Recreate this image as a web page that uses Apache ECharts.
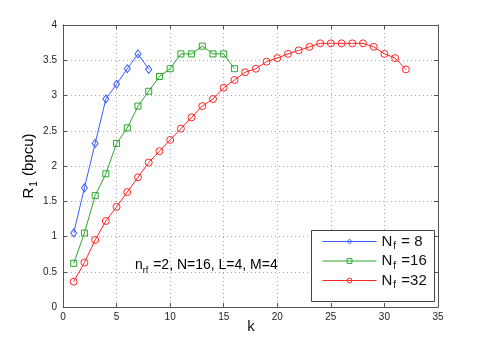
<!DOCTYPE html>
<html>
<head>
<meta charset="utf-8">
<script src="https://cdn.jsdelivr.net/npm/echarts@6/dist/echarts.min.js"></script>
<style>html,body{margin:0;padding:0;background:#fff;}#c{width:485px;height:346px;}</style>
</head>
<body>
<div id="c"></div>
<script>
var kValues = [1,2,3,4,5,6,7,8,9,10,11,12,13,14,15,16,17,18,19,20,21,22,23,24,25,26,27,28,29,30,31,32];
var rateNf8 = [1.05,1.69,2.32,2.95,3.16,3.38,3.59,3.37];
var rateNf16 = [0.62,1.05,1.58,1.89,2.32,2.54,2.85,3.06,3.27,3.38,3.59,3.59,3.70,3.59,3.59,3.38];
var rateNf32 = [0.36,0.63,0.95,1.22,1.42,1.63,1.84,2.05,2.21,2.37,2.53,2.69,2.85,2.95,3.11,3.22,
                3.33,3.38,3.48,3.53,3.59,3.64,3.69,3.74,3.74,3.74,3.74,3.74,3.69,3.59,3.53,3.37];
var seriesNames = ['{a|N}{s|f}{a| = 8}', '{a|N}{s|f}{a| =16}', '{a|N}{s|f}{a| =32}'];
var xTicks = {min: 0, max: 35, interval: 5};
var yTicks = {min: 0, max: 4, interval: 0.5};

function pairs(vals){ return vals.map(function(v,i){ return [kValues[i], v]; }); }

var FONT = 'Liberation Sans, Arial, Helvetica, sans-serif';
var chart = echarts.init(document.getElementById('c'), null, {renderer:'canvas'});
var axisLine = {show:true, onZero:false, lineStyle:{color:'#555', width:1}};
var axisTick = {show:true, inside:true, length:4, lineStyle:{color:'#555'}};
function mk(name, data, color, symbol, size){
  return {
    name:name, type:'line', data:pairs(data), symbol:symbol, symbolSize:size,
    showAllSymbol:true,
    lineStyle:{color:color, width:1},
    itemStyle:{color:'rgba(255,255,255,0)', borderColor:color, borderWidth:1},
    emphasis:{disabled:true},
    animation:false, z:3
  };
}
var s1 = mk(seriesNames[0], rateNf8, '#3a5cff', 'diamond', [6,8]);
var s2 = mk(seriesNames[1], rateNf16, '#2aa82a', 'rect', 6);
var s3 = mk(seriesNames[2], rateNf32, '#ff2626', 'circle', 7);

var richText = {
  a:{fontSize:15, fontFamily:FONT, color:'#111', lineHeight:20, verticalAlign:'middle'},
  s:{fontSize:10, fontFamily:FONT, color:'#111', lineHeight:20, verticalAlign:'bottom', padding:[0,1,0,1]}
};

chart.setOption({
  animation:false,
  backgroundColor:'#fff',
  grid:{left:63, right:47, top:25, bottom:39, containLabel:false},
  xAxis:[
    {type:'value', position:'bottom', min:xTicks.min, max:xTicks.max, interval:xTicks.interval,
      axisLabel:{color:'#222', fontSize:10, fontFamily:FONT, margin:5},
      splitLine:{show:true, lineStyle:{type:[1,3], color:'#aaa', width:1}},
      axisLine:axisLine, axisTick:axisTick},
    {type:'value', position:'top', min:xTicks.min, max:xTicks.max, interval:xTicks.interval,
      axisLabel:{show:false}, splitLine:{show:false}, axisLine:axisLine, axisTick:axisTick}
  ],
  yAxis:[
    {type:'value', position:'left', min:yTicks.min, max:yTicks.max, interval:yTicks.interval,
      axisLabel:{color:'#222', fontSize:10, fontFamily:FONT, margin:6},
      splitLine:{show:true, lineStyle:{type:[1,3], color:'#aaa', width:1}},
      axisLine:axisLine, axisTick:axisTick},
    {type:'value', position:'right', min:yTicks.min, max:yTicks.max, interval:yTicks.interval,
      axisLabel:{show:false}, splitLine:{show:false}, axisLine:axisLine, axisTick:axisTick}
  ],
  legend:{
    orient:'vertical', left:322, top:234, padding:0, itemWidth:54, itemHeight:6, itemGap:2,
    data:seriesNames, selectedMode:false, z:20,
    lineStyle:{width:1},
    itemStyle:{color:'rgba(255,255,255,0)', borderWidth:1},
    formatter:function(n){ return n; },
    textStyle:{rich:richText}
  },
  graphic:[
    {type:'rect', shape:{x:311.5, y:230.5, width:123, height:71}, style:{fill:'#fff', stroke:'#444', lineWidth:1}, z:10},
    {type:'text', x:135, y:265, style:{text:'{a|n}{s|rf}{a| =2, N=16, L=4, M=4}', rich:{
      a:{fontSize:14, fontFamily:FONT, color:'#111', lineHeight:20, verticalAlign:'middle'},
      s:{fontSize:9, fontFamily:FONT, color:'#111', lineHeight:20, verticalAlign:'bottom', padding:[0,1,0,0]}
    }, verticalAlign:'middle'}, z:60},
    {type:'text', x:29, y:166, rotation:Math.PI/2, style:{text:'{a|R}{s|1}{a| (bpcu)}', rich:{
      a:{fontSize:15, fontFamily:FONT, color:'#111', lineHeight:20, verticalAlign:'middle'},
      s:{fontSize:10, fontFamily:FONT, color:'#111', lineHeight:20, verticalAlign:'bottom', padding:[0,1,0,1]}
    }, align:'center', verticalAlign:'middle'}, z:60},
    {type:'text', x:251, y:327, style:{text:'k', fontSize:15, fontFamily:FONT, fill:'#111', align:'center', verticalAlign:'middle'}, z:60}
  ],
  series:[s1,s2,s3]
});
</script>
</body>
</html>
